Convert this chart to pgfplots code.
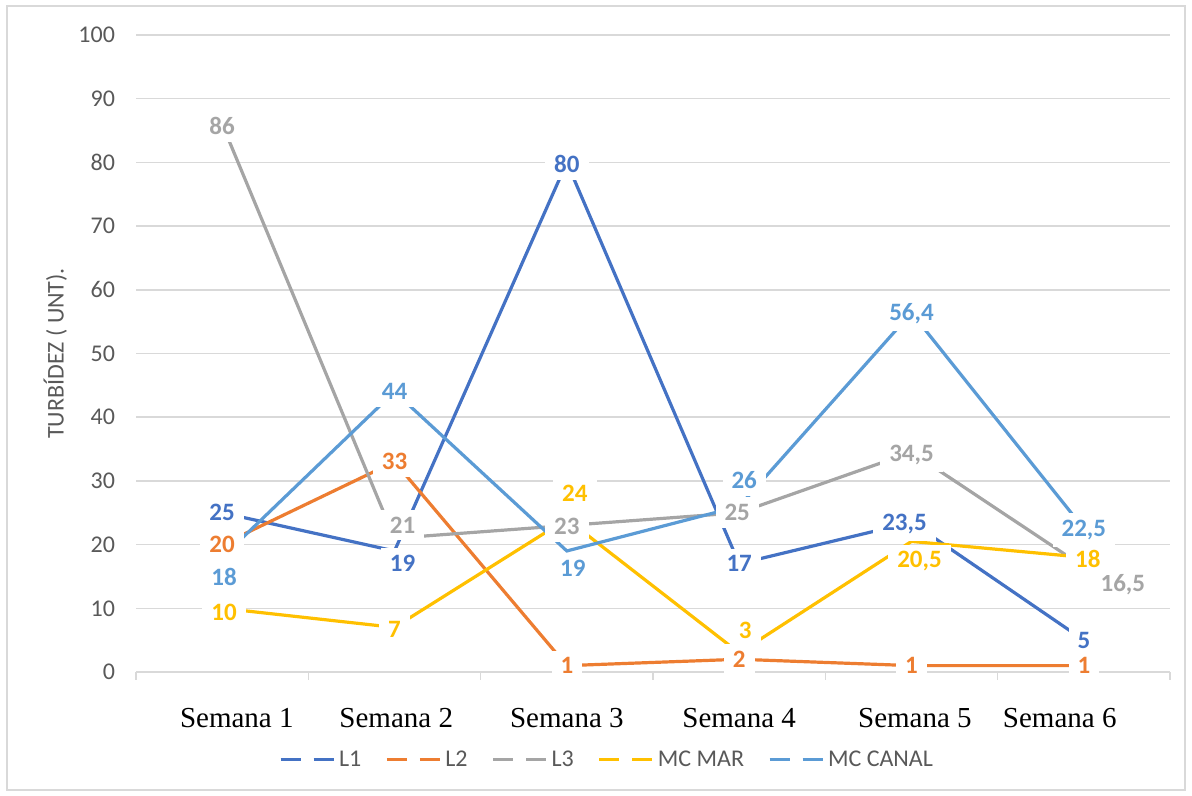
\documentclass[border=0pt]{standalone}
\usepackage{pgfplots}
\usepackage{pgfplotstable}
\pgfplotsset{compat=1.18}
\usepackage{fontspec}
\setmainfont{Carlito}
\newfontfamily\timesfont{Liberation Serif}

\definecolor{cLone}{HTML}{4472C4}
\definecolor{cLtwo}{HTML}{ED7D31}
\definecolor{cLthree}{HTML}{A5A5A5}
\definecolor{cMar}{HTML}{FFC000}
\definecolor{cCanal}{HTML}{5B9BD5}
\definecolor{gridgray}{HTML}{D9D9D9}
\definecolor{txtgray}{HTML}{595959}

% week index, turbidity, label offset (pt)
\pgfplotstableread{
x y dx dy
0 25 0 0
1 19 4 -6
2 80 0 -1
3 17 0 0
4 23.5 -3.5 -1
5 5 0 0
}\tabLone
\pgfplotstableread{
x y dx dy
0 20 0 0
1 33 0 0
2 1 0 0
3 2 0 0
4 1 0 0
5 1 0 0
}\tabLtwo
\pgfplotstableread{
x y dx dy
0 86 0 -1
1 21 4 6.5
2 23 0 -0.5
3 25 -1 0
4 34.5 0 -1.5
5 16.5 19.5 -9
}\tabLthree
\pgfplotstableread{
x y dx dy
0 10 1 -2
1 7 0 -1
2 24 4 13
3 3 3 11
4 20.5 4 -10
5 18 2 -1
}\tabMar
\pgfplotstableread{
x y dx dy
0 18 1 -10
1 44 0 0
2 19 3 -8.5
3 26 2.5 13
4 56.4 0 -0.5
5 22.5 0 -0.5
}\tabCanal

\pgfplotsset{
  vallabel/.style={
    draw=none, forget plot, no markers,
    visualization depends on={\thisrow{dx}\as\dx},
    visualization depends on={\thisrow{dy}\as\dy},
    nodes near coords={\pgfmathprintnumber[use comma,fixed,precision=1]{\pgfplotspointmeta}},
    every node near coord/.append style={
      anchor=center, xshift=\dx pt, yshift=\dy pt,
      fill=white, inner xsep=4.5pt, inner ysep=3.5pt,
      font=\fontsize{12.5}{14}\selectfont\bfseries, text=#1},
  },
}

\begin{document}
\begin{tikzpicture}
\useasboundingbox (0,0) rectangle (596pt,398pt);
\draw[gridgray, line width=0.75pt] (3.5pt,3pt) rectangle (592.5pt,395pt);
\begin{axis}[
  at={(68pt,62pt)}, anchor=south west,
  scale only axis, width=517pt, height=318.5pt,
  xmin=-0.5, xmax=5.5, ymin=0, ymax=100,
  ytick={0,10,...,100},
  xtick={0.085,1.01,2,3,4.02,4.86},
  xticklabels={Semana 1,Semana 2,Semana 3,Semana 4,Semana 5,Semana 6},
  xticklabel style={font=\timesfont\fontsize{14.5}{17}\selectfont, text=black, anchor=base, yshift=-28pt},
  yticklabel style={font=\fontsize{12}{14}\selectfont, text=txtgray, anchor=east, xshift=-7pt},
  /pgf/number format/assume math mode=true,
  major tick length=0pt, tick pos=left,
  extra x ticks={-0.5,0.5,1.5,2.5,3.5,4.5,5.5},
  extra x tick labels={},
  extra x tick style={tick align=outside, major tick length=4pt,
    major tick style={draw=gridgray, line width=0.75pt}},
  axis line style={draw=none},
  ymajorgrids, grid style={draw=gridgray, line width=0.75pt},
  ylabel={TURBÍDEZ ( UNT).},
  ylabel style={at={(axis description cs:-0.078,0.5)}, anchor=center, rotate=0,
    font=\fontsize{12}{14}\selectfont, text=txtgray},
  legend columns=5,
  legend style={at={(axis description cs:0.4565,-0.138)}, anchor=center, draw=none,
    font=\fontsize{12}{14}\selectfont, text=txtgray,
    /tikz/every even column/.append style={column sep=10pt}},
  legend image code/.code={\draw[#1, line width=1.5pt, dash pattern=on 10pt off 6.5pt] (0pt,0pt) -- (26.5pt,0pt);},
  every axis plot/.append style={line width=1.6pt},
  clip=false,
]
\addplot[cLone, no markers] table[x=x,y=y] {\tabLone};
\addlegendentry{L1}
\addplot[cLtwo, no markers] table[x=x,y=y] {\tabLtwo};
\addlegendentry{L2}
\addplot[cLthree, no markers] table[x=x,y=y] {\tabLthree};
\addlegendentry{L3}
\addplot[cMar, no markers] table[x=x,y=y] {\tabMar};
\addlegendentry{MC MAR}
\addplot[cCanal, no markers] table[x=x,y=y] {\tabCanal};
\addlegendentry{MC CANAL}

% value labels on white boxes, drawn above every line
\addplot[vallabel=cLthree] table[x=x,y=y] {\tabLthree};
\addplot[vallabel=cLtwo] table[x=x,y=y] {\tabLtwo};
\addplot[vallabel=cMar] table[x=x,y=y] {\tabMar};
\addplot[vallabel=cCanal] table[x=x,y=y] {\tabCanal};
\addplot[vallabel=cLone] table[x=x,y=y] {\tabLone};
\end{axis}
\end{tikzpicture}
\end{document}
